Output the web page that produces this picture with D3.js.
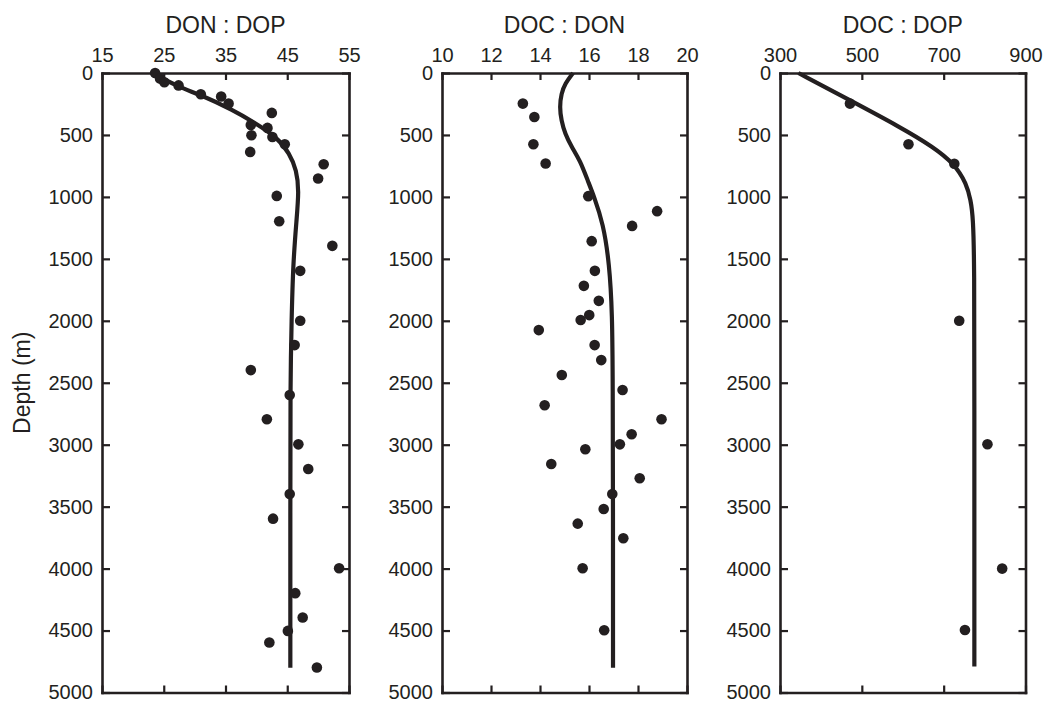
<!DOCTYPE html>
<html>
<head>
<meta charset="utf-8">
<script src="https://cdn.jsdelivr.net/npm/d3@7/dist/d3.min.js"></script>
<style>
    body { margin: 0; background: #fff; }
</style>
</head>
<body>
<svg id="chart" width="1044" height="702"></svg>
<script>
    // ----- data -----
    var depthTicks = [0, 500, 1000, 1500, 2000, 2500, 3000, 3500, 4000, 4500, 5000];

    // DON : DOP
    var donDopTicks = [15, 25, 35, 45, 55];
    var donDopDepth = [0, 45, 75, 100, 172, 190, 247, 322, 419, 443, 502, 516, 575, 637, 736, 852, 992, 1196, 1395, 1597,
        2000, 2196, 2398, 2599, 2795, 2997, 3196, 3398, 3597, 3997, 4198, 4395, 4503, 4597, 4798];
    var donDopValue = [23.6, 24.4, 25.1, 27.4, 31.0, 34.3, 35.5, 42.5, 39.1, 41.8, 39.2, 42.6, 44.6, 39.0, 50.9, 50.0, 43.3, 43.7, 52.3, 47.1,
        47.1, 46.2, 39.1, 45.4, 41.7, 46.8, 48.4, 45.4, 42.7, 53.4, 46.3, 47.5, 45.1, 42.1, 49.8];
    var donDopFitDepth = [0, 118, 174, 301, 395, 516, 650, 785, 946, 1188, 1537, 1994, 2500, 3500, 4800];
    var donDopFitValue = [23.1, 27.6, 30.9, 36.3, 39.5, 43.3, 45.4, 46.5, 46.9, 46.5, 45.95, 45.7, 45.5, 45.5, 45.5];

    // DOC : DON
    var docDonTicks = [10, 12, 14, 16, 18, 20];
    var docDonDepth = [247, 355, 575, 731, 994, 1115, 1234, 1357, 1597, 1718, 1839, 1954, 1994, 2075, 2196, 2317,
        2438, 2559, 2681, 2795, 2916, 2997, 3037, 3156, 3271, 3398, 3519, 3637, 3755, 3997, 4497];
    var docDonValue = [13.30, 13.77, 13.73, 14.23, 15.97, 18.78, 17.76, 16.11, 16.24, 15.79, 16.40, 16.01, 15.66, 13.95, 16.23, 16.50,
        14.89, 17.37, 14.19, 18.96, 17.74, 17.26, 15.85, 14.46, 18.07, 16.95, 16.60, 15.54, 17.40, 15.74, 16.62];
    var docDonFitDepth = [0, 86, 166, 274, 382, 489, 600, 704, 879, 994, 1215, 1537, 1941, 2500, 3500, 4800];
    var docDonFitValue = [15.35, 15.02, 14.87, 14.80, 14.87, 15.02, 15.3, 15.63, 15.97, 16.2, 16.58, 16.83, 16.95, 16.97, 16.98, 16.98];

    // DOC : DOP
    var docDopTicks = [300, 500, 700, 900];
    var docDopDepth = [247, 575, 733, 2000, 2996, 4000, 4495];
    var docDopValue = [471, 614, 726, 738, 807, 843, 752];
    var docDopFitDepth = [0, 220, 435, 597, 733, 892, 1027, 1161, 1564, 2500, 4790];
    var docDopFitValue = [345, 471, 593, 675, 726, 756, 766, 772, 775, 775, 775];

    // ----- layout -----
    var ink = '#231f20';
    var font = '"Liberation Sans", Arial, Helvetica, sans-serif';
    var plotTop = 73;
    var plotBottom = 692.5;

    var svg = d3.select('#chart');

    //zip two arrays into [value, depth] pairs
    function zip(values, depths) {
        return values.map(function (v, i) { return [v, depths[i]]; });
    }

    //draw one framed panel with top axis, dots and fitted curve
    function drawPanel(left, right, title, ticks, dots, fit, showDepth) {

        var x = d3.scaleLinear()
            .domain([ticks[0], ticks[ticks.length - 1]])
            .range([left, right]);
        var y = d3.scaleLinear()
            .domain([0, 5000])
            .range([plotTop, plotBottom]);

        var g = svg.append('g');

        // top axis with labels, ticks pointing in
        g.append('g')
            .attr('transform', 'translate(0,' + plotTop + ')')
            .call(d3.axisTop(x).tickValues(ticks).tickFormat(d3.format('d'))
                .tickSizeInner(-7).tickSizeOuter(0).tickPadding(11));

        // bottom axis, ticks only
        g.append('g')
            .attr('transform', 'translate(0,' + plotBottom + ')')
            .call(d3.axisBottom(x).tickValues(ticks).tickSizeInner(-7).tickSizeOuter(0).tickFormat(''));

        // left depth axis
        g.append('g')
            .attr('transform', 'translate(' + left + ',0)')
            .call(d3.axisLeft(y).tickValues(depthTicks).tickFormat(d3.format('d'))
                .tickSizeInner(-8).tickSizeOuter(0).tickPadding(9));

        // right axis, ticks only
        g.append('g')
            .attr('transform', 'translate(' + right + ',0)')
            .call(d3.axisRight(y).tickValues(depthTicks).tickSizeInner(-7).tickSizeOuter(0).tickFormat(''));

        g.selectAll('.domain').attr('stroke', ink).attr('stroke-width', 2.6).attr('stroke-linecap', 'square');
        g.selectAll('.tick line').attr('stroke', ink).attr('stroke-width', 2.2);
        g.selectAll('.tick text')
            .attr('fill', ink)
            .style('font-family', font)
            .style('font-size', '20px');

        // panel title
        g.append('text')
            .attr('x', (left + right) / 2)
            .attr('y', 33)
            .attr('text-anchor', 'middle')
            .attr('fill', ink)
            .style('font-family', font)
            .style('font-size', '23px')
            .text(title);

        // fitted curve
        var line = d3.line()
            .x(function (d) { return x(d[0]); })
            .y(function (d) { return y(d[1]); })
            .curve(d3.curveBasis);

        g.append('path')
            .datum(fit)
            .attr('fill', 'none')
            .attr('stroke', ink)
            .attr('stroke-width', 4.2)
            .attr('d', line);

        // data points
        g.selectAll('circle')
            .data(dots)
            .enter()
            .append('circle')
            .attr('cx', function (d) { return x(d[0]); })
            .attr('cy', function (d) { return y(d[1]); })
            .attr('r', 5.3)
            .attr('fill', ink);

        if (showDepth) {
            g.append('text')
                .attr('transform', 'translate(30,' + ((plotTop + plotBottom) / 2) + ') rotate(-90)')
                .attr('text-anchor', 'middle')
                .attr('fill', ink)
                .style('font-family', font)
                .style('font-size', '23px')
                .text('Depth (m)');
        }
    }

    drawPanel(102, 349, 'DON : DOP', donDopTicks,
        zip(donDopValue, donDopDepth), zip(donDopFitValue, donDopFitDepth), true);
    drawPanel(442, 687, 'DOC : DON', docDonTicks,
        zip(docDonValue, docDonDepth), zip(docDonFitValue, docDonFitDepth), false);
    drawPanel(780, 1025.5, 'DOC : DOP', docDopTicks,
        zip(docDopValue, docDopDepth), zip(docDopFitValue, docDopFitDepth), false);
</script>
</body>
</html>
